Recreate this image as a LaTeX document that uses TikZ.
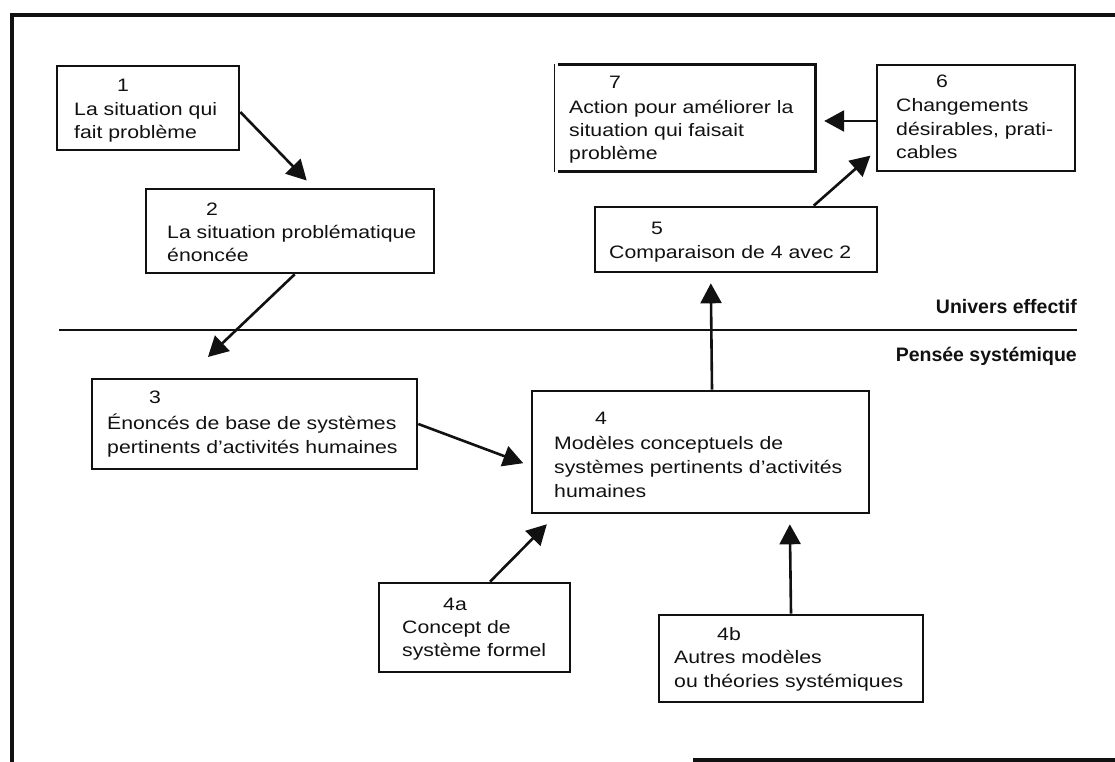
\documentclass[tikz,border=0pt]{standalone}
\usepackage{fontspec}
\setmainfont{Liberation Sans}[FakeStretch=1.18]
\newfontfamily\zonefont{Liberation Sans}
\usetikzlibrary{arrows.meta}
\definecolor{ink}{HTML}{111111}
\begin{document}
\begin{tikzpicture}[x=1pt,y=-1pt,
  box/.style={draw=ink, line width=2.6pt, inner sep=0pt, rectangle},
  openbox/.style={inner sep=0pt, rectangle},
  num/.style={inner sep=0pt, anchor=base, font=\fontsize{18}{23}\selectfont, text=ink},
  body/.style={inner sep=0pt, anchor=base west, font=\fontsize{18}{23}\selectfont, text=ink},
  zone/.style={inner sep=0pt, anchor=base east, font=\zonefont\bfseries\fontsize{19.5}{22}\selectfont, text=ink},
  arr/.style={draw=ink, line width=2.6pt, -{Triangle[length=20pt,width=21pt]}},
  frame/.style={draw=ink, line width=4pt},
  divider/.style={draw=ink, line width=2pt}]
\useasboundingbox (0,0) rectangle (1115,762);

% outer frame and the boundary between the two worlds
\draw[frame] (1115,15) -- (12,15) -- (12,762);
\draw[frame] (693,760) -- (1115,760);
\draw[divider] (59,330) -- (1077,330);
\node[zone] (zup) at (1077,313) {Univers effectif};
\node[zone] (zdown) at (1077,361) {Pensée systémique};

% boxes
\node[box, minimum width=182pt, minimum height=84pt]  (b1)  at (148,108)   {};
\node[box, minimum width=288pt, minimum height=84pt]  (b2)  at (290,231)   {};
\node[box, minimum width=325pt, minimum height=90pt]  (b3)  at (254.5,424) {};
\node[box, minimum width=337pt, minimum height=122pt] (b4)  at (700.5,452) {};
\node[box, minimum width=191pt, minimum height=89pt]  (b4a) at (474.5,627.5) {};
\node[box, minimum width=264pt, minimum height=87pt]  (b4b) at (791,658.5) {};
\node[box, minimum width=282pt, minimum height=65pt]  (b5)  at (736,239.5) {};
\node[box, minimum width=198pt, minimum height=106pt] (b6)  at (976,118)   {};
% box 7: heavy top, right and bottom sides, light left side
\node[openbox, minimum width=260pt, minimum height=107pt] (b7) at (685,118) {};
\draw[draw=ink, line width=2.6pt] ([xshift=3pt]b7.north west) -- (b7.north east)
  -- (b7.south east) -- ([xshift=3pt]b7.south west);
\draw[draw=ink, line width=1.2pt] (b7.north west) -- (b7.south west);

% box texts
\node[num]  (t1n) at (123,92) {1};
\node[body] (t1a) at (74,116) {La situation qui};
\node[body] (t1b) at (74,139) {fait problème};

\node[num]  (t2n) at (212,215) {2};
\node[body] (t2a) at (167,238) {La situation problématique};
\node[body] (t2b) at (167,261) {énoncée};

\node[num]  (t3n) at (155,403) {3};
\node[body] (t3a) at (107,429) {Énoncés de base de systèmes};
\node[body] (t3b) at (107,453) {pertinents d’activités humaines};

\node[num]  (t4n) at (601,424) {4};
\node[body] (t4a) at (554,449) {Modèles conceptuels de};
\node[body] (t4b) at (554,473) {systèmes pertinents d’activités};
\node[body] (t4c) at (554,497) {humaines};

\node[num]  (t4an) at (455,610) {4a};
\node[body] (t4aa) at (402,633) {Concept de};
\node[body] (t4ab) at (402,656) {système formel};

\node[num]  (t4bn) at (729,640) {4b};
\node[body] (t4ba) at (674,663) {Autres modèles};
\node[body] (t4bb) at (674,687) {ou théories systémiques};

\node[num]  (t5n) at (657,234) {5};
\node[body] (t5a) at (609,258) {Comparaison de 4 avec 2};

\node[num]  (t6n) at (942,88) {6};
\node[body] (t6a) at (896,112) {Changements};
\node[body] (t6b) at (896,136) {désirables, prati-};
\node[body] (t6c) at (896,159) {cables};

\node[num]  (t7n) at (615,89) {7};
\node[body] (t7a) at (569,114) {Action pour améliorer la};
\node[body] (t7b) at (569,137) {situation qui faisait};
\node[body] (t7c) at (569,160) {problème};

% connectors
\draw[arr, shorten >=10pt] ([yshift=-4pt]b1.east) -- ([xshift=169pt]b2.north west);
\draw[arr, shorten >=30pt] ([xshift=150pt]b2.south west) -- ([xshift=95.5pt]b3.north west);
\draw[arr, shorten >=8pt]  (b3.east) -- ([yshift=-14pt]b4.west);
\draw[arr, shorten >=10pt] ([xshift=11.5pt]b4.north) -- ([xshift=117pt]b5.south west);
\draw[arr, shorten >=7pt]  ([xshift=220pt]b5.north west) -- ([yshift=-33pt]b6.west);
\draw[arr, shorten >=9pt]  ([yshift=-3pt]b6.west) -- ([yshift=-3pt]b7.east);
\draw[arr, shorten >=14pt] ([xshift=15.5pt]b4a.north) -- ([xshift=26pt]b4.south west);
\draw[arr, shorten >=10pt] (b4b.north) -- ([xshift=259pt]b4.south west);
\end{tikzpicture}
\end{document}
